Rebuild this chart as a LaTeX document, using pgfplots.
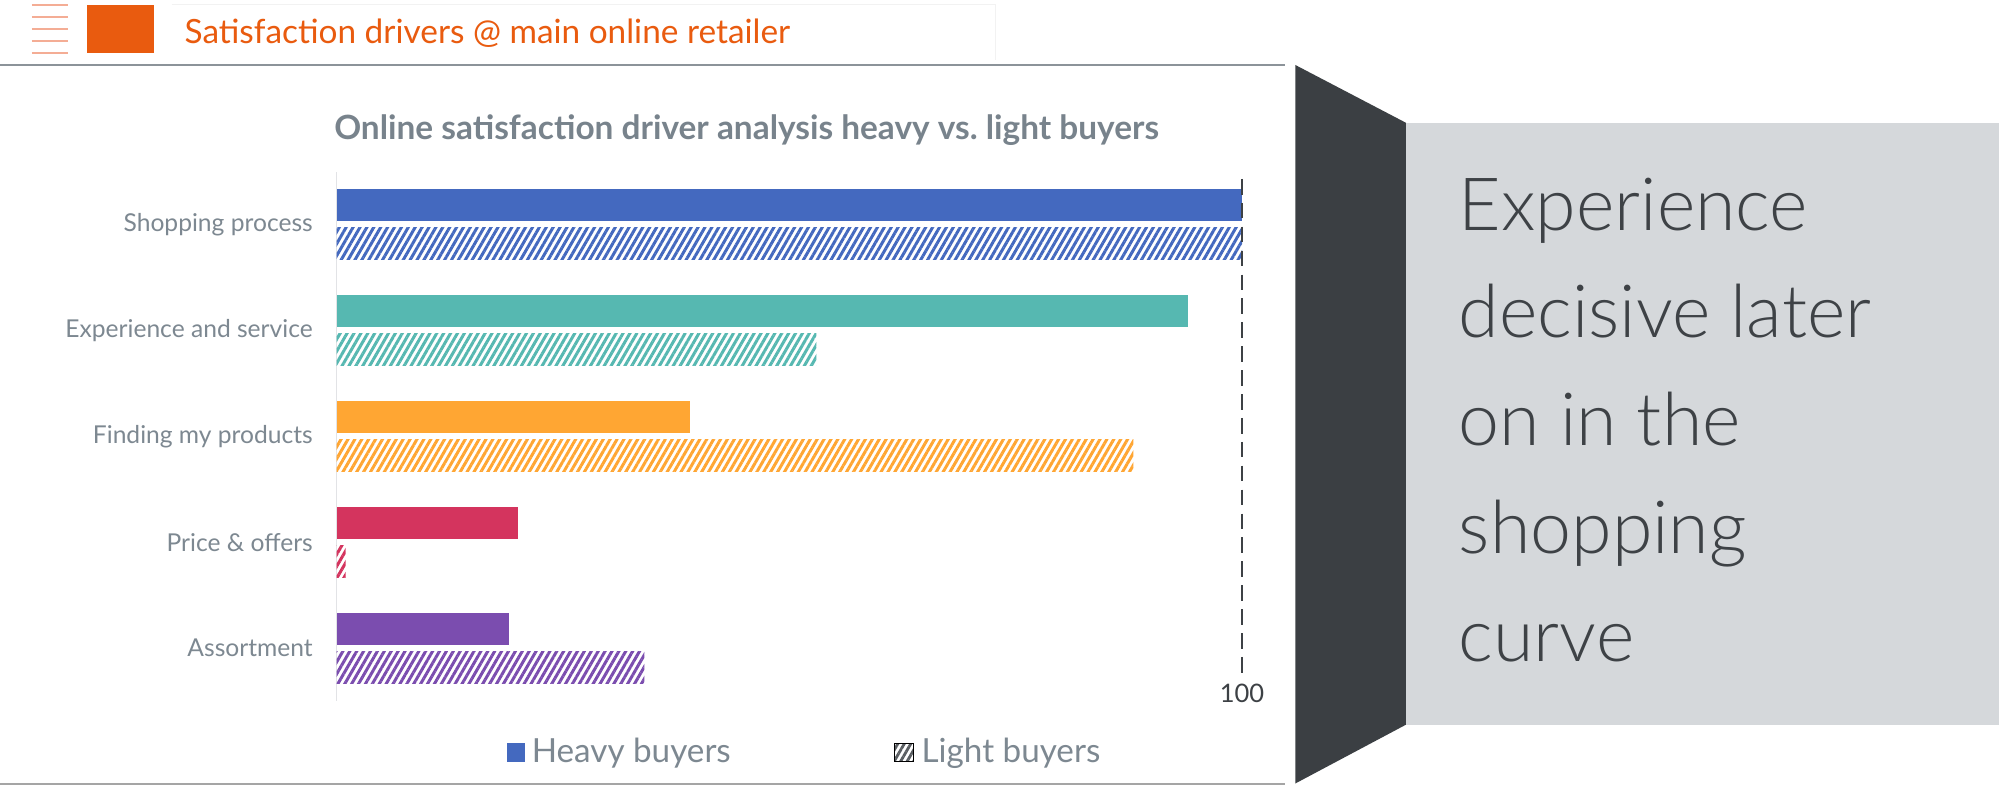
\documentclass[border=0pt]{standalone}
\usepackage{fontspec}
\setmainfont{Lato}
\newfontfamily\latolight{Lato Light}
\usepackage{pgfplots}
\pgfplotsset{compat=1.18}
\usetikzlibrary{patterns.meta}

\definecolor{hdr}{HTML}{E95B0F}
\definecolor{ham}{HTML}{F4AD95}
\definecolor{titlegray}{HTML}{78838C}
\definecolor{labelgray}{HTML}{7D8891}
\definecolor{numdark}{HTML}{3D4145}
\definecolor{axisgray}{HTML}{E2E3E6}
\definecolor{topline}{HTML}{8C9399}
\definecolor{botline}{HTML}{A5A5A5}
\definecolor{darkpanel}{HTML}{3B3F43}
\definecolor{boxgray}{HTML}{D5D8DB}
\definecolor{boxtext}{HTML}{3E4246}
\definecolor{hatchgray}{HTML}{5A5E62}
\definecolor{cblue}{HTML}{4469BF}
\definecolor{cteal}{HTML}{56B8B1}
\definecolor{corange}{HTML}{FFA633}
\definecolor{cred}{HTML}{D4345E}
\definecolor{cpurple}{HTML}{7B4DAF}

\pgfplotsset{
  heavy/.style={xbar, bar shift=0.193cm, draw=none, fill=#1, forget plot},
  light/.style={xbar, bar shift=-0.193cm, draw=none, forget plot,
    pattern={Lines[angle=60, distance=1.7pt, line width=0.85pt]}, pattern color=#1},
}

\begin{document}
\begin{tikzpicture}
\fill[white] (0,0) rectangle (20cm,8.03cm);
\path[use as bounding box] (0,0) rectangle (20cm,8.03cm);

% everything around the chart, in pixel units of the reference (y downwards)
\begin{scope}[x=0.01cm, y=-0.01cm, yshift=8.03cm]
  \foreach \yy in {5,17,29,41,53}
    \draw[ham, line width=0.02cm] (32,\yy) -- (68,\yy);
  \fill[hdr] (87,5) rectangle (154,53);
  \draw[black!5, line width=0.01cm] (172,5) -- (996,5) -- (996,60);
  \node[anchor=base west, inner sep=0, text=hdr, font=\fontsize{9.5}{11}\selectfont]
    at (184,44) {Satisfaction drivers @ main online retailer};
  \draw[topline, line width=0.02cm] (0,65) -- (1286,65);
  \draw[botline, line width=0.02cm] (0,784) -- (1286,784);
  \fill[darkpanel] (1296,65) -- (1407,123) -- (1407,725) -- (1296,784) -- cycle;
  \fill[boxgray] (1407,123) rectangle (2000,725);
  \foreach \yy/\txt in {230.5/Experience, 338/decisive later, 446/on in the, 554/shopping, 662/curve}
    \node[anchor=base west, inner sep=0, text=boxtext, font=\latolight\fontsize{20.9}{28}\selectfont]
      at (1459,\yy) {\txt};
  \node[anchor=base, inner sep=0, text=titlegray, font=\bfseries\fontsize{9.5}{11}\selectfont]
    at (747,140) {Online satisfaction driver analysis heavy vs.\ light buyers};
\end{scope}

\begin{axis}[
  at={(3.365cm,1.02cm)}, anchor=south west,
  scale only axis, width=9.055cm, height=5.295cm,
  xmin=0, xmax=100, ymin=-0.5, ymax=4.5,
  xbar, bar width=0.323cm,
  axis x line*=bottom, axis y line*=left,
  x axis line style={draw=none},
  y axis line style={draw=axisgray, line width=0.015cm},
  major tick length=0,
  xtick={100}, ytick={0,1,2,3,4},
  yticklabels={Assortment, Price \& offers, Finding my products, Experience and service, Shopping process},
  yticklabel style={font=\fontsize{7}{8}\selectfont, text=labelgray, xshift=-0.113cm},
  xticklabel style={font=\fontsize{7.25}{8}\selectfont, text=numdark, yshift=0.295cm},
  /pgf/number format/assume math mode=true,
  clip=false,
  legend style={draw=none, fill=none, at={(0.52,-0.0975)}, anchor=center,
    font=\fontsize{9.45}{10}\selectfont, text=labelgray,
    /tikz/every even column/.append style={column sep=1.55cm}},
  legend columns=2, legend cell align=left,
]
% Shopping process
\addplot[heavy=cblue] coordinates {(100,4)};
\addplot[light=cblue] coordinates {(100,4)};
% Experience and service
\addplot[heavy=cteal] coordinates {(94,3)};
\addplot[light=cteal] coordinates {(53,3)};
% Finding my products
\addplot[heavy=corange] coordinates {(39,2)};
\addplot[light=corange] coordinates {(88,2)};
% Price & offers
\addplot[heavy=cred] coordinates {(20,1)};
\addplot[light=cred] coordinates {(1,1)};
% Assortment
\addplot[heavy=cpurple] coordinates {(19,0)};
\addplot[light=cpurple] coordinates {(34,0)};

\draw[numdark, line width=0.027cm, dash pattern=on 0.156cm off 0.083cm]
  (axis cs:100,4.43) -- (axis cs:100,-0.27);

\addlegendimage{legend image code/.code={\fill[cblue] (0cm,-0.09cm) rectangle (0.16cm,0.09cm);}}
\addlegendentry{Heavy buyers}
\addlegendimage{legend image code/.code={\fill[pattern={Lines[angle=60, distance=1.6pt, line width=0.8pt]}, pattern color=hatchgray] (0cm,-0.09cm) rectangle (0.19cm,0.09cm);}}
\addlegendentry{Light buyers}
\end{axis}
\end{tikzpicture}
\end{document}
